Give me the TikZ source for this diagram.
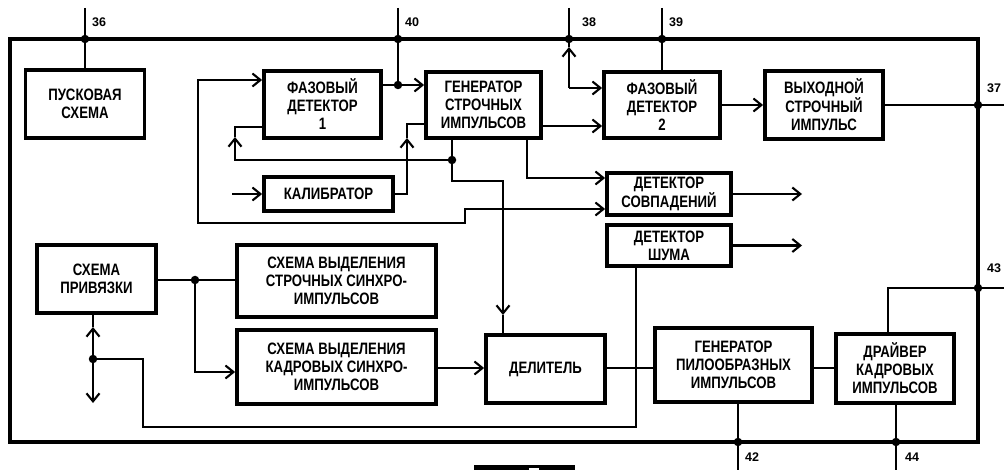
\documentclass[tikz,border=0pt]{standalone}
\usepackage{fontspec}
\setmainfont{Liberation Sans}[FakeStretch=0.8]
\newfontfamily\numfont{Liberation Sans}
\usetikzlibrary{arrows.meta,calc}
\begin{document}
\begin{tikzpicture}[x=1pt,y=-1pt,
  blk/.style={draw,line width=3.8pt,inner sep=0pt,align=center,
    font=\bfseries\fontsize{16.5}{18}\selectfont},
  wire/.style={line width=2.1pt},
  frm/.style={line width=3.6pt},
  barb/.tip={Straight Barb[length=8pt,width=13pt]},
  arr/.style={wire,-barb},
  dot/.style={circle,fill,inner sep=0pt,minimum size=8.5pt},
  pinlbl/.style={anchor=west,inner sep=0pt,font=\numfont\bfseries\fontsize{12.5}{12.5}\selectfont}]
\useasboundingbox (0,0) rectangle (1004,470);

% blocks
\node[blk,minimum width=119pt,minimum height=68pt] (pusk) at (85,104) {ПУСКОВАЯ\\СХЕМА};
\node[blk,minimum width=117pt,minimum height=67pt] (fd1) at (322.5,104.5) {ФАЗОВЫЙ\\ДЕТЕКТОР\\1};
\node[blk,minimum width=115pt,minimum height=66pt] (gsi) at (483.5,105) {ГЕНЕРАТОР\\СТРОЧНЫХ\\ИМПУЛЬСОВ};
\node[blk,minimum width=116pt,minimum height=66pt] (fd2) at (662,105) {ФАЗОВЫЙ\\ДЕТЕКТОР\\2};
\node[blk,minimum width=118pt,minimum height=68pt] (vyh) at (824,105) {ВЫХОДНОЙ\\СТРОЧНЫЙ\\ИМПУЛЬС};
\node[blk,minimum width=129pt,minimum height=34pt] (kal) at (328.5,194) {КАЛИБРАТОР};
\node[blk,minimum width=124pt,minimum height=42pt] (dsov) at (669,194) {ДЕТЕКТОР\\СОВПАДЕНИЙ};
\node[blk,minimum width=124pt,minimum height=41pt] (dsh) at (669,245.5) {ДЕТЕКТОР\\ШУМА};
\node[blk,minimum width=119pt,minimum height=68pt] (spriv) at (96.5,279) {СХЕМА\\ПРИВЯЗКИ};
\node[blk,minimum width=199pt,minimum height=72pt] (svss) at (336.5,281) {СХЕМА ВЫДЕЛЕНИЯ\\СТРОЧНЫХ СИНХРО-\\ИМПУЛЬСОВ};
\node[blk,minimum width=199pt,minimum height=74pt] (svks) at (336.5,367) {СХЕМА ВЫДЕЛЕНИЯ\\КАДРОВЫХ СИНХРО-\\ИМПУЛЬСОВ};
\node[blk,minimum width=119pt,minimum height=68pt] (del) at (545.5,369) {ДЕЛИТЕЛЬ};
\node[blk,minimum width=157pt,minimum height=74pt] (gp) at (733.5,365) {ГЕНЕРАТОР\\ПИЛООБРАЗНЫХ\\ИМПУЛЬСОВ};
\node[blk,minimum width=118pt,minimum height=69pt] (dr) at (895,368.5) {ДРАЙВЕР\\КАДРОВЫХ\\ИМПУЛЬСОВ};

% frame
\draw[frm] (10,39) rectangle (978,442);

% pin coordinates
\coordinate (pin36top) at (85,8);   \coordinate (pin36) at (85,39);
\coordinate (pin40top) at (398,8);  \coordinate (pin40) at (398,39); \coordinate (j40) at (398,85);
\coordinate (pin38top) at (569,8);  \coordinate (pin38) at (569,39); \coordinate (a38) at (569,47); \coordinate (b38) at (569,88);
\coordinate (pin39top) at (662,8);  \coordinate (pin39) at (662,39);
\coordinate (pin37) at (978,105);   \coordinate (pin37r) at (1004,105);
\coordinate (pin43) at (978,288);   \coordinate (pin43r) at (1004,288); \coordinate (b43) at (888,288);
\coordinate (pin42) at (738,442);   \coordinate (pin42b) at (738,470);
\coordinate (pin44) at (896,442);   \coordinate (pin44b) at (896,470);
\coordinate (d160) at (452,160);
\coordinate (j93) at (93,359);
\coordinate (j195) at (195,280);
\coordinate (kin) at (232,194);
\coordinate (dsovout) at (802,194);
\coordinate (dshout) at (802,245.5);

% pins
\draw[wire] (pin36top) -- (pusk.north);
\draw[wire] (pin40top) -- (j40);
\draw[wire] (pin38top) -- (pin38) -- (a38);
\draw[arr] (b38) -- (a38);
\draw[arr] (b38) -- (fd2.west |- b38);
\draw[wire] (pin39top) -- (fd2.north);
\draw[wire] (vyh.east) -- (pin37r);
\draw[arr] (fd2.east) -- (vyh.west);
\draw[wire] (pin43r) -- (pin43) -- (b43) -- (dr.north -| b43);
\draw[wire] (gp.south -| pin42) -- (pin42b);
\draw[wire] (dr.south -| pin44) -- (pin44b);

% upper connections
\draw[wire] (fd1.east |- j40) -- (j40);
\draw[arr] (j40) -- (gsi.west |- j40);
\draw[arr] (gsi.east |- 0,126) -- (fd2.west |- 0,126);
\draw[wire,barb-barb] (fd1.west |- 0,80) -- (198,80) -- (198,223) -- (465,223) -- (465,209) -- (dsov.west |- 0,209);
\draw[wire] (gsi.south -| d160) -- (d160);
\draw[arr] (d160) -- (235,160) -- (235,137);
\draw[wire] (235,137) -- (235,127) -- (fd1.west |- 0,127);
\draw[arr] (d160) -- (452,181) -- (503,181) -- (503,315);
\draw[wire] (503,315) -- (del.north -| 503,0);
\draw[arr] (kin) -- (kal.west);
\draw[arr] (kal.east) -- (407,194) -- (407,138);
\draw[wire] (407,138) -- (407,124) -- (gsi.west |- 0,124);
\draw[arr] (gsi.south -| 527,0) -- (527,178) -- (dsov.west |- 0,178);
\draw[arr] (dsov.east) -- (dsovout);
\draw[arr] (dsh.east) -- (dshout);

% lower connections
\draw[wire] (dsh.south -| 636,0) -- (636,427) -- (143,427) -- (143,359) -- (j93);
\draw[arr] (j93) -- (93,403);
\draw[arr] (j93) -- (93,327);
\draw[wire] (93,327) -- (spriv.south -| j93);
\draw[wire] (spriv.east |- j195) -- (j195) -- (svss.west |- j195);
\draw[arr] (j195) -- (195,372) -- (svks.west |- 0,372);
\draw[arr] (svks.east |- 0,368) -- (del.west |- 0,368);
\draw[wire] (del.east |- 0,368) -- (gp.west |- 0,368);
\draw[wire] (gp.east |- 0,368) -- (dr.west |- 0,368);

% dots
\foreach \p in {pin36,pin40,j40,pin38,pin39,pin37,pin43,pin42,pin44,d160,j93,j195}
  \node[dot] at (\p) {};

% pin labels
\node[pinlbl] (l36) at (92,22) {36};
\node[pinlbl] (l40) at (405,22) {40};
\node[pinlbl] (l38) at (582,22) {38};
\node[pinlbl] (l39) at (669,22) {39};
\node[pinlbl] (l37) at (987,88) {37};
\node[pinlbl] (l43) at (987,268) {43};
\node[pinlbl] (l42) at (745,457) {42};
\node[pinlbl] (l44) at (905,457) {44};

% bottom bar
\fill (474,465) rectangle (575,470);
\fill[white] (529,468) rectangle (539,470);
\end{tikzpicture}
\end{document}
